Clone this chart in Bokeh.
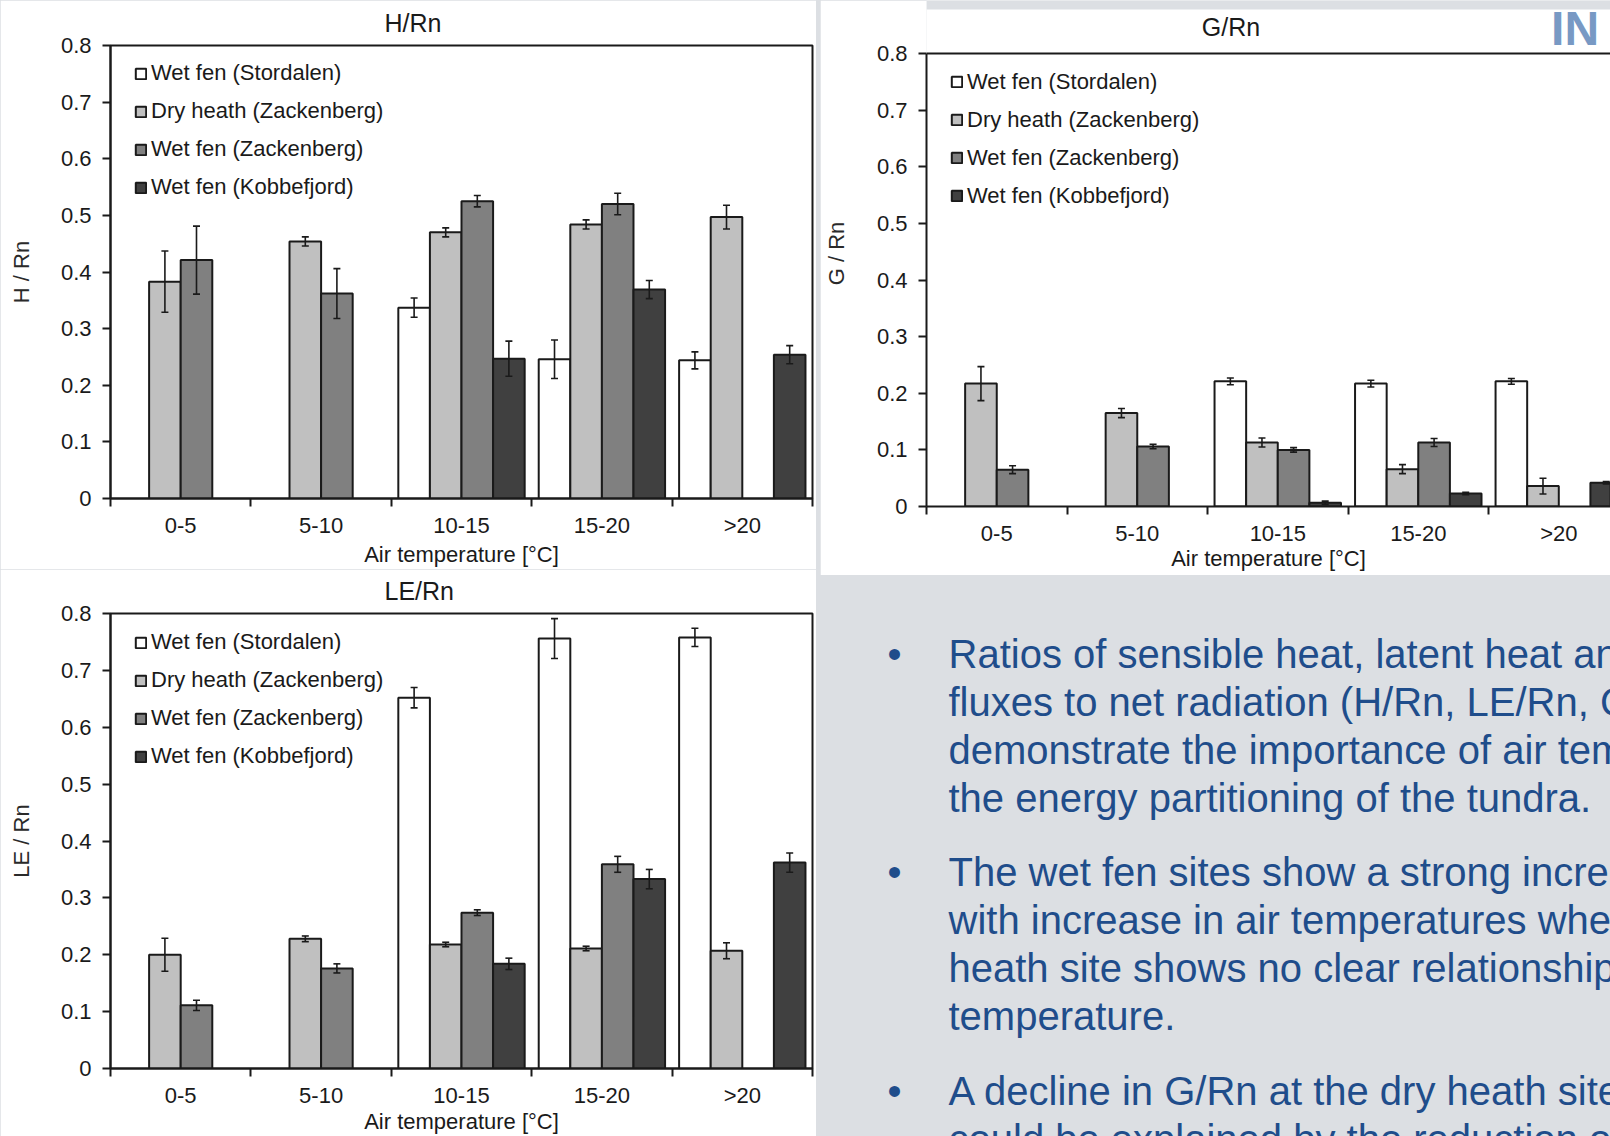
from bokeh.plotting import figure
from bokeh.models import (Range1d, FixedTicker, CustomJSTickFormatter, ColumnDataSource,
                          Whisker, TeeHead, Legend, LegendItem, Label, Span, BoxAnnotation)
from bokeh.transform import dodge
from bokeh.layouts import row, column
from bokeh.embed import file_html
from bokeh.resources import INLINE

# ---------------- data ----------------
categories = ["0-5", "5-10", "10-15", "15-20", ">20"]
series_names = ["Wet fen (Stordalen)", "Dry heath (Zackenberg)",
                "Wet fen (Zackenberg)", "Wet fen (Kobbefjord)"]
y_ticks = [0, 0.1, 0.2, 0.3, 0.4, 0.5, 0.6, 0.7, 0.8]

# H/Rn
h_stordalen = [None, None, 0.337, 0.246, 0.244]
h_stordalen_err = [None, None, 0.017, 0.034, 0.015]
h_dry_zack = [0.383, 0.454, 0.470, 0.484, 0.497]
h_dry_zack_err = [0.054, 0.008, 0.008, 0.008, 0.021]
h_wet_zack = [0.421, 0.362, 0.525, 0.520, None]
h_wet_zack_err = [0.060, 0.044, 0.010, 0.019, None]
h_kobbe = [None, None, 0.247, 0.369, 0.254]
h_kobbe_err = [None, None, 0.031, 0.016, 0.016]

# G/Rn
g_stordalen = [None, None, 0.221, 0.217, 0.221]
g_stordalen_err = [None, None, 0.006, 0.006, 0.005]
g_dry_zack = [0.217, 0.165, 0.113, 0.066, 0.036]
g_dry_zack_err = [0.030, 0.008, 0.008, 0.008, 0.014]
g_wet_zack = [0.065, 0.106, 0.100, 0.113, None]
g_wet_zack_err = [0.007, 0.004, 0.004, 0.007, None]
g_kobbe = [None, None, 0.0065, 0.023, 0.042]
g_kobbe_err = [None, None, 0.003, 0.002, 0.002]

# LE/Rn
le_stordalen = [None, None, 0.652, 0.756, 0.758]
le_stordalen_err = [None, None, 0.018, 0.035, 0.016]
le_dry_zack = [0.200, 0.228, 0.218, 0.211, 0.207]
le_dry_zack_err = [0.029, 0.005, 0.004, 0.004, 0.014]
le_wet_zack = [0.111, 0.176, 0.274, 0.359, None]
le_wet_zack_err = [0.009, 0.008, 0.005, 0.014, None]
le_kobbe = [None, None, 0.184, 0.333, 0.362]
le_kobbe_err = [None, None, 0.010, 0.017, 0.017]

bullet_texts = [
    ["Ratios of sensible heat, latent heat and ground heat",
     "fluxes to net radiation (H/Rn, LE/Rn, G/Rn)",
     "demonstrate the importance of air temperature for",
     "the energy partitioning of the tundra."],
    ["The wet fen sites show a strong increase in LE/Rn",
     "with increase in air temperatures whereas the dry",
     "heath site shows no clear relationship with air",
     "temperature."],
    ["A decline in G/Rn at the dry heath site with temperature",
     "could be explained by the reduction of soil moisture"],
]

# ---------------- style ----------------
FONT = "Liberation Sans"
BAR_COLORS = ["#ffffff", "#c0c0c0", "#808080", "#404040"]
OFFSETS = [-0.3375, -0.1125, 0.1125, 0.3375]
BAR_W = 0.225
BG = "#dcdfe3"
TEXT_BLUE = "#1f4d8b"
INK = "#1a1a1a"
FS = "22px"


def make_chart(title, ylabel, vals, errs, width, height, left, right, top, bottom,
               x_end, xlab_standoff, ylab_standoff, frame_h, legend_top,
               title_standoff=14, y_top=None, outline=True, title_offset=274):
    y_end = y_top if y_top is not None else 0.8
    p = figure(width=width, height=height, x_range=Range1d(0, x_end),
               y_range=Range1d(0, y_end), output_backend="svg", toolbar_location=None,
               min_border_left=left, min_border_right=right,
               min_border_top=top, min_border_bottom=bottom,
               background_fill_color="white", border_fill_color="white")
    if y_top is None:
        p.title.text = title
        p.title.text_font = FONT
        p.title.text_font_size = "25px"
        p.title.text_font_style = "normal"
        p.title.text_color = INK
        p.title.align = "left"
        p.title.vertical_align = "top"
        p.title.offset = title_offset
        p.title.standoff = title_standoff
    else:
        p.add_layout(Label(x=2.167, y=0.8468, text=title, text_font=FONT, text_font_size="25px",
                           text_color=INK, text_align="center", text_baseline="middle"))

    p.xgrid.visible = False
    p.ygrid.visible = False
    if outline:
        p.outline_line_color = INK
        p.outline_line_width = 2
    else:
        p.outline_line_color = None
        p.add_layout(Span(location=0.8, dimension="width", line_color=INK, line_width=2))

    centers = [i + 0.5 for i in range(len(categories))]
    boundaries = [float(i) for i in range(len(categories) + 1)]
    xa = p.xaxis[0]
    xa.ticker = FixedTicker(ticks=centers, minor_ticks=boundaries)
    xa.major_label_overrides = {c: cat for c, cat in zip(centers, categories)}
    xa.major_tick_line_color = None
    xa.major_tick_out = 8
    xa.major_tick_in = 0
    xa.minor_tick_line_color = INK
    xa.minor_tick_line_width = 2
    xa.minor_tick_out = 8
    xa.minor_tick_in = 0
    xa.axis_line_color = INK
    xa.axis_line_width = 2
    xa.major_label_text_font = FONT
    xa.major_label_text_font_size = FS
    xa.major_label_text_color = INK
    xa.major_label_standoff = 6
    xa.axis_label = "Air temperature [°C]"
    xa.axis_label_text_font = FONT
    xa.axis_label_text_font_size = FS
    xa.axis_label_text_font_style = "normal"
    xa.axis_label_text_color = INK
    xa.axis_label_standoff = xlab_standoff

    ya = p.yaxis[0]
    ya.ticker = FixedTicker(ticks=y_ticks, minor_ticks=[])
    ya.formatter = CustomJSTickFormatter(code="return tick == 0 ? '0' : tick.toFixed(1);")
    ya.bounds = (0, 0.8)
    ya.major_tick_out = 8
    ya.major_tick_in = 0
    ya.major_tick_line_color = INK
    ya.major_tick_line_width = 2
    ya.minor_tick_line_color = None
    ya.axis_line_color = INK
    ya.axis_line_width = 2
    ya.major_label_text_font = FONT
    ya.major_label_text_font_size = FS
    ya.major_label_text_color = INK
    ya.major_label_standoff = 11
    ya.axis_label = ylabel
    ya.axis_label_text_font = FONT
    ya.axis_label_text_font_size = FS
    ya.axis_label_text_font_style = "normal"
    ya.axis_label_text_color = "#2a2a2a"
    ya.axis_label_standoff = ylab_standoff

    items = []
    for k, (name, v, e) in enumerate(zip(series_names, vals, errs)):
        idx = [i for i, val in enumerate(v) if val is not None]
        src = ColumnDataSource(dict(
            x=[centers[i] for i in idx],
            top=[v[i] for i in idx],
            upper=[v[i] + e[i] for i in idx],
            lower=[v[i] - e[i] for i in idx],
        ))
        r = p.vbar(x=dodge("x", OFFSETS[k]), top="top", width=BAR_W, source=src,
                   fill_color=BAR_COLORS[k], line_color=INK, line_width=2)
        w = Whisker(source=src, base=dodge("x", OFFSETS[k]), upper="upper", lower="lower",
                    line_color=INK, line_width=1.6, level="overlay",
                    upper_head=TeeHead(size=7, line_color=INK, line_width=1.6),
                    lower_head=TeeHead(size=7, line_color=INK, line_width=1.6))
        p.add_layout(w)
        items.append(LegendItem(label=name, renderers=[r]))

    pad, lab_h, spc = 2, 26, 12
    legend_h = 2 * pad + 4 * lab_h + 3 * spc
    leg = Legend(items=items, location=(24, frame_h - legend_top - legend_h),
                 padding=pad, margin=0, spacing=spc, label_height=lab_h,
                 glyph_width=13, glyph_height=13, label_standoff=4,
                 label_text_font=FONT, label_text_font_size=FS, label_text_color=INK,
                 border_line_color=None, background_fill_alpha=0)
    p.add_layout(leg)
    return p


h_fig = make_chart("H/Rn", "H / Rn",
                   [h_stordalen, h_dry_zack, h_wet_zack, h_kobbe],
                   [h_stordalen_err, h_dry_zack_err, h_wet_zack_err, h_kobbe_err],
                   816, 569, 110, 4, 45, 69, 5, 1, 24, 453, 11, title_standoff=14)
le_fig = make_chart("LE/Rn", "LE / Rn",
                    [le_stordalen, le_dry_zack, le_wet_zack, le_kobbe],
                    [le_stordalen_err, le_dry_zack_err, le_wet_zack_err, le_kobbe_err],
                    816, 567, 110, 4, 44, 66, 5, -2, 24, 455, 12, title_standoff=13)
G_YTOP = 0.8936
g_fig = make_chart("G/Rn", "G / Rn",
                   [g_stordalen, g_dry_zack, g_wet_zack, g_kobbe],
                   [g_stordalen_err, g_dry_zack_err, g_wet_zack_err, g_kobbe_err],
                   790, 575, 106, 0, 0, 69, 4.868, -3, 25, 506, 64.5,
                   y_top=G_YTOP, outline=False)
# textured strip above the G/Rn panel and the logo fragment
g_fig.add_layout(BoxAnnotation(bottom=0.8777, fill_color=BG, fill_alpha=1.0,
                               line_color=None, level="underlay"))
g_fig.add_layout(Label(x=4.445, y=0.8450, text="IN", text_font=FONT, text_font_size="48px",
                       text_font_style="bold", text_color="#7899c4",
                       text_baseline="middle", text_align="left"))

# text panel
TW, TH, TL = 790, 561, 106
t_fig = figure(width=TW, height=TH, x_range=Range1d(TL, TW), y_range=Range1d(TH, 0),
               output_backend="svg", toolbar_location=None, x_axis_type=None,
               min_border_left=TL, min_border_right=0, min_border_top=0, min_border_bottom=0,
               background_fill_color=BG, border_fill_color=BG)
t_fig.outline_line_color = None
t_fig.xgrid.visible = False
t_fig.ygrid.visible = False
starts = [78.7, 296, 515]
pitch = 48
ty = t_fig.yaxis[0]
ty.ticker = FixedTicker(ticks=starts, minor_ticks=[])
ty.major_label_overrides = {s: "•" for s in starts}
ty.axis_line_color = None
ty.major_tick_line_color = None
ty.minor_tick_line_color = None
ty.major_tick_out = 0
ty.major_tick_in = 0
ty.major_label_standoff = 25
ty.major_label_text_font = FONT
ty.major_label_text_font_size = "40px"
ty.major_label_text_color = TEXT_BLUE
for lines, y0 in zip(bullet_texts, starts):
    for j, line in enumerate(lines):
        t_fig.add_layout(Label(x=128, y=y0 + j * pitch, text=line, text_font=FONT,
                               text_font_size="40px", text_color=TEXT_BLUE,
                               text_align="left", text_baseline="middle"))

layout = row(column(h_fig, le_fig, spacing=0), column(g_fig, t_fig, spacing=0),
             spacing=4, styles={"background-color": BG})

open("out.html", "w").write(file_html(layout, INLINE))
